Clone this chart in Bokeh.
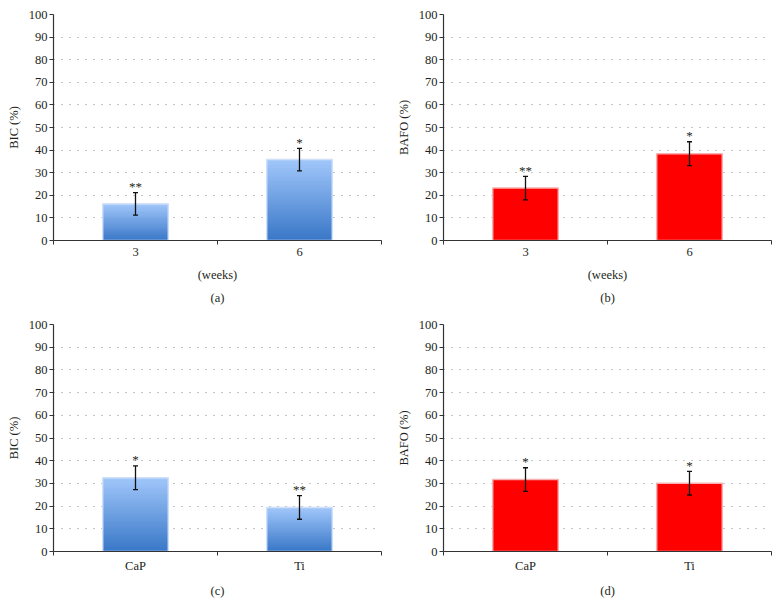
from bokeh.plotting import figure
from bokeh.models import Range1d, FixedTicker, Whisker, TeeHead, ColumnDataSource, Title
from bokeh.layouts import column, row
from bokeh.core.properties import value
from bokeh.embed import file_html
from bokeh.resources import INLINE

# ---- data ----
weeks = ["3", "6"]
implants = ["CaP", "Ti"]

bic_weeks = [16.2, 35.8]
bic_weeks_err = [5.0, 5.0]
bic_weeks_sig = ["**", "*"]

bafo_weeks = [23.2, 38.4]
bafo_weeks_err = [5.2, 5.3]
bafo_weeks_sig = ["**", "*"]

bic_implants = [32.5, 19.4]
bic_implants_err = [5.2, 5.2]
bic_implants_sig = ["*", "**"]

bafo_implants = [31.7, 30.1]
bafo_implants_err = [5.2, 5.2]
bafo_implants_sig = ["*", "*"]

y_ticks = list(range(0, 101, 10))

FONT = "Liberation Serif"
FS = "12.5px"
TXT = "#231F20"
BLUE_TOP = (160, 198, 250)
BLUE_BOT = (58, 120, 200)


def hexc(c):
    return "#%02x%02x%02x" % tuple(int(round(v)) for v in c)


def make_panel(cats, vals, errs, sigs, ylabel, tag, style, xlabel=None,
               top_border=14, frame_h=226, height=308, left=53, right=9,
               width=390, xstand=3, tag_stand=8):
    p = figure(width=width, height=height, x_range=Range1d(0, len(cats)),
               y_range=Range1d(0, 100), output_backend="svg",
               toolbar_location=None, tools="")
    p.min_border_left = left
    p.min_border_right = right
    p.min_border_top = top_border
    p.min_border_bottom = height - top_border - frame_h
    p.outline_line_color = None
    p.background_fill_color = "white"
    p.border_fill_color = "white"

    xs = [i + 0.5 for i in range(len(cats))]
    bw = 0.4

    p.xgrid.visible = False
    p.ygrid.ticker = FixedTicker(ticks=y_ticks[1:])
    p.ygrid.grid_line_color = "#8a8a8a"
    p.ygrid.grid_line_dash = "1 7"
    p.ygrid.grid_line_width = 1
    p.ygrid.level = "underlay"

    if style == "blue":
        n = 40
        L, R, B, T, C = [], [], [], [], []
        for x, v in zip(xs, vals):
            for k in range(n):
                f = k / (n - 1)
                col = [BLUE_BOT[j] + (BLUE_TOP[j] - BLUE_BOT[j]) * f for j in range(3)]
                L.append(x - bw / 2)
                R.append(x + bw / 2)
                B.append(v * k / n)
                T.append(min(v, v * (k + 1.6) / n))
                C.append(hexc(col))
        p.quad(left=L, right=R, bottom=B, top=T, fill_color=C, line_color=C,
               line_width=0.6)
        p.vbar(x=xs, top=vals, width=bw, fill_color=None, line_color="#cfe0f8",
               line_width=1.5)
    else:
        p.vbar(x=xs, top=vals, width=bw, fill_color="#ff0000",
               line_color="#f7b0b0", line_width=1.5)

    upper = [v + e for v, e in zip(vals, errs)]
    lower = [v - e for v, e in zip(vals, errs)]
    src = ColumnDataSource(dict(x=xs, upper=upper, lower=lower, sig=sigs))
    w = Whisker(source=src, base="x", upper="upper", lower="lower",
                line_color="#111111", line_width=1.3, level="annotation",
                upper_head=TeeHead(size=5, line_color="#111111", line_width=1.3),
                lower_head=TeeHead(size=5, line_color="#111111", line_width=1.3))
    p.add_layout(w)
    p.text(x="x", y="upper", text="sig", source=src, text_align="center",
           text_baseline="middle", y_offset=-6, text_font=value(FONT),
           text_font_size="13px", text_color=TXT)

    # axes
    p.xaxis.ticker = FixedTicker(ticks=xs, minor_ticks=list(range(len(cats) + 1)))
    p.xaxis.major_label_overrides = {x: c for x, c in zip(xs, cats)}
    p.xaxis.major_tick_out = 0
    p.xaxis.major_tick_in = 0
    p.xaxis.minor_tick_out = 4
    p.xaxis.minor_tick_in = 0
    p.xaxis.minor_tick_line_color = "#333333"
    p.xaxis.axis_line_color = "#333333"
    p.xaxis.axis_line_width = 1.2
    p.xaxis.major_label_standoff = xstand
    p.xaxis.major_label_text_font = FONT
    p.xaxis.major_label_text_font_size = FS
    p.xaxis.major_label_text_color = TXT
    if xlabel:
        p.xaxis.axis_label = xlabel
        p.xaxis.axis_label_standoff = 9
        p.xaxis.axis_label_text_font = FONT
        p.xaxis.axis_label_text_font_size = FS
        p.xaxis.axis_label_text_font_style = "normal"
        p.xaxis.axis_label_text_color = TXT

    p.yaxis.ticker = FixedTicker(ticks=y_ticks)
    p.yaxis.minor_tick_line_color = None
    p.yaxis.major_tick_out = 4
    p.yaxis.major_tick_in = 0
    p.yaxis.major_tick_line_color = "#333333"
    p.yaxis.axis_line_color = "#333333"
    p.yaxis.axis_line_width = 1.2
    p.yaxis.major_label_standoff = 2
    p.yaxis.major_label_text_font = FONT
    p.yaxis.major_label_text_font_size = FS
    p.yaxis.major_label_text_color = TXT
    p.yaxis.axis_label = ylabel
    p.yaxis.axis_label_standoff = 5
    p.yaxis.axis_label_text_font = FONT
    p.yaxis.axis_label_text_font_size = FS
    p.yaxis.axis_label_text_font_style = "normal"
    p.yaxis.axis_label_text_color = TXT

    t = Title(text=tag, align="center", text_font=FONT, text_font_size=FS,
              text_font_style="normal", text_color=TXT, standoff=tag_stand)
    p.add_layout(t, "below")
    return p


pa = make_panel(weeks, bic_weeks, bic_weeks_err, bic_weeks_sig, "BIC (%)", "(a)",
                "blue", xlabel="(weeks)")
pb = make_panel(weeks, bafo_weeks, bafo_weeks_err, bafo_weeks_sig, "BAFO (%)", "(b)",
                "red", xlabel="(weeks)")
pc = make_panel(implants, bic_implants, bic_implants_err, bic_implants_sig, "BIC (%)",
                "(c)", "blue", top_border=16, frame_h=227, height=296,
                xstand=3, tag_stand=12)
pd = make_panel(implants, bafo_implants, bafo_implants_err, bafo_implants_sig,
                "BAFO (%)", "(d)", "red", top_border=16, frame_h=227, height=296,
                xstand=3, tag_stand=12)

layout = column(row(pa, pb), row(pc, pd))
open("out.html", "w").write(file_html(layout, INLINE))
